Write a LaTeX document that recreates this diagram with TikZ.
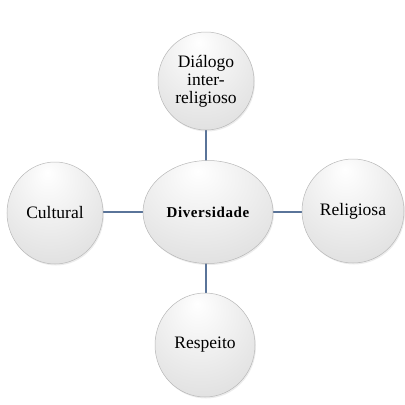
\documentclass[tikz,border=0pt]{standalone}
\usepackage{fontspec}
\setmainfont{Liberation Serif}
\usetikzlibrary{shapes.geometric,shadows}
\definecolor{linkc}{HTML}{5A7499}
\pgfdeclareradialshading{bubble}{\pgfpoint{-4bp}{20bp}}{color(0bp)=(white);color(12bp)=(black!4);color(40bp)=(black!13);color(62bp)=(black!26);color(75bp)=(black!32)}
\begin{document}
\begin{tikzpicture}[x=1pt,y=-1pt,
  bub/.style={ellipse, draw=black!28, line width=0.5pt, shading=bubble, inner sep=0pt, align=center,
    font=\fontsize{17.5}{18}\selectfont,
    drop shadow={opacity=0.15, shadow xshift=1pt, shadow yshift=-1.5pt}},
  link/.style={draw=linkc, line width=1.2pt}]
\useasboundingbox (0,0) rectangle (405,405);
\draw[link] (206,128) -- (206,162);
\draw[link] (206,262) -- (206,295);
\draw[link] (102,212) -- (144,212);
\draw[link] (272,212) -- (303,212);
\node[bub, minimum width=96pt, minimum height=98pt] (top) at (206,81) {Diálogo\\inter-\\religioso};
\node[bub, minimum width=130pt, minimum height=103pt, font={\fontsize{15}{16}\selectfont\bfseries\addfontfeatures{LetterSpace=4}}] (ctr) at (208,212) {Diversidade};
\node[bub, minimum width=96pt, minimum height=102pt] (lft) at (55,213) {Cultural};
\node[bub, minimum width=102pt, minimum height=104pt] (rgt) at (353,211) {Religiosa};
\node[bub, minimum width=100pt, minimum height=104pt] (bot) at (205,345) {Respeito};
\end{tikzpicture}
\end{document}
